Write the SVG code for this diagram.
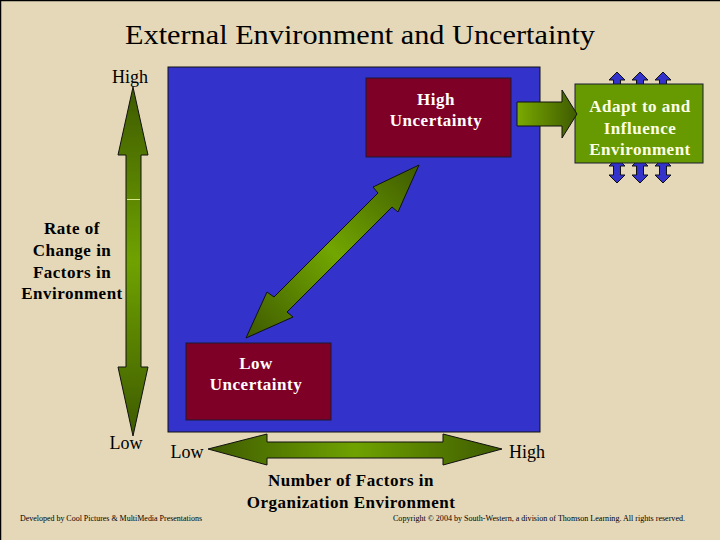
<svg xmlns="http://www.w3.org/2000/svg" width="720" height="540" viewBox="0 0 720 540">
<style>
.t{font-family:"Liberation Serif","Times New Roman",serif;fill:#000}
.b{font-weight:bold;font-size:17px;letter-spacing:0.5px;text-anchor:middle}
.r{font-size:18px;text-anchor:middle}
.w{fill:#FFFFFF}
.c{fill:#FFFFE6}
.box{stroke:#1A1A33;stroke-width:1}
.arr{stroke:#111;stroke-width:1;stroke-linejoin:miter}
.f{font-size:8px}
</style>
<defs>
<linearGradient id="gv" gradientUnits="userSpaceOnUse" x1="0" y1="87" x2="0" y2="436">
<stop offset="0" stop-color="#3E5A00"/><stop offset="0.5" stop-color="#6FA200"/><stop offset="1" stop-color="#3E5A00"/>
</linearGradient>
<linearGradient id="gh" gradientUnits="userSpaceOnUse" x1="208" y1="0" x2="502" y2="0">
<stop offset="0" stop-color="#3E5A00"/><stop offset="0.5" stop-color="#6FA200"/><stop offset="1" stop-color="#3E5A00"/>
</linearGradient>
<linearGradient id="gd" gradientUnits="userSpaceOnUse" x1="246" y1="338" x2="419" y2="165">
<stop offset="0" stop-color="#3E5A00"/><stop offset="0.5" stop-color="#72A600"/><stop offset="1" stop-color="#3E5A00"/>
</linearGradient>
<linearGradient id="gr" gradientUnits="userSpaceOnUse" x1="517" y1="0" x2="577" y2="0">
<stop offset="0" stop-color="#7AAA00"/><stop offset="1" stop-color="#3E5A00"/>
</linearGradient>
<path id="ba" d="M0,0 L8,8 L3.5,8 L3.5,17 L8,17 L0,25 L-8,17 L-3.5,17 L-3.5,8 L-8,8 Z" fill="#3333CC" stroke="#111" stroke-width="1"/>
</defs>
<rect x="0" y="0" width="720" height="540" fill="#E4D8B8"/>
<path d="M0.5,540 L0.5,0.5 L720,0.5" fill="none" stroke="#000" stroke-width="1.5"/>

<text class="t" x="360" y="44" font-size="28" text-anchor="middle" textLength="470" lengthAdjust="spacingAndGlyphs">External Environment and Uncertainty</text>

<g id="field">
<rect x="168" y="67" width="372" height="365" fill="#3333CC" stroke="#111" stroke-width="1"/>
</g>

<g id="high-uncertainty">
<rect class="box" x="366" y="78" width="145" height="79" fill="#7F0026"/>
<text class="t b w" x="436" y="105">High</text>
<text class="t b w" x="436" y="126">Uncertainty</text>
</g>

<g id="low-uncertainty">
<rect class="box" x="186" y="343" width="145" height="77" fill="#7F0026"/>
<text class="t b w" x="256" y="369">Low</text>
<text class="t b w" x="256" y="390">Uncertainty</text>
</g>

<g id="adapt">
<use href="#ba" x="617" y="72"/>
<use href="#ba" x="640" y="72"/>
<use href="#ba" x="663" y="72"/>
<use href="#ba" x="617" y="158"/>
<use href="#ba" x="640" y="158"/>
<use href="#ba" x="663" y="158"/>
<rect class="box" x="575" y="84" width="128" height="79" fill="#669A00"/>
<text class="t b c" x="640" y="112">Adapt to and</text>
<text class="t b c" x="640" y="134">Influence</text>
<text class="t b c" x="640" y="155">Environment</text>
</g>

<g id="connectors">
<polygon class="arr" fill="url(#gv)" points="133,87 148,155 141,155 141,367 148,367 133,436 118,367 126,367 126,155 118,155"/>
<line x1="127" y1="199.5" x2="140" y2="199.5" stroke="#D6E88A" stroke-width="1"/>
<polygon class="arr" fill="url(#gh)" points="208,449 267,434 267,442 443,442 443,434 502,449 443,465 443,458 267,458 267,465"/>
<polygon class="arr" fill="url(#gd)" points="419,165 398,212 392,207 287,312 293,317 246,338 267,292 274,297 378,193 373,187"/>
<polygon class="arr" fill="url(#gr)" points="517,102 562,102 562,90 577,114 562,138 562,126 517,126"/>
</g>

<g id="labels">
<text class="t r" x="130" y="83">High</text>
<text class="t r" x="126" y="449">Low</text>
<text class="t r" x="187" y="458">Low</text>
<text class="t r" x="527" y="458">High</text>
<text class="t b" x="72" y="234">Rate of</text>
<text class="t b" x="72" y="256">Change in</text>
<text class="t b" x="72" y="278">Factors in</text>
<text class="t b" x="72" y="299">Environment</text>
<text class="t b" x="351" y="486">Number of Factors in</text>
<text class="t b" x="351" y="508">Organization Environment</text>
<text class="t f" x="20" y="521" textLength="182" lengthAdjust="spacingAndGlyphs">Developed by Cool Pictures &amp; MultiMedia Presentations</text>
<text class="t f" x="393" y="521" textLength="292" lengthAdjust="spacingAndGlyphs">Copyright © 2004 by South-Western, a division of Thomson Learning. All rights reserved.</text>
</g>
</svg>
